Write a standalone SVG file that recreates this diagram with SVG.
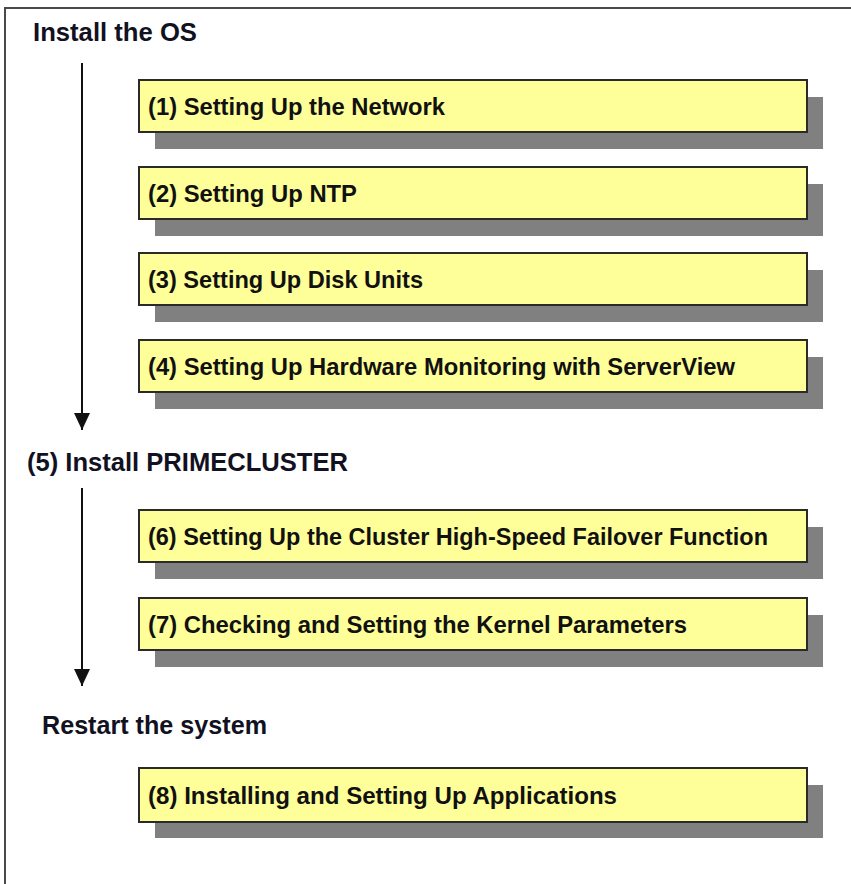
<svg xmlns="http://www.w3.org/2000/svg" width="851" height="884" viewBox="0 0 851 884">
<style>
.bg{fill:#ffffff}
.frame{fill:none;stroke:#4a4a4a;stroke-width:2}
.shadow{fill:#808080}
.box{fill:#ffff99;stroke:#2a2a2a;stroke-width:2}
.bt{font-family:"Liberation Sans",Arial,sans-serif;font-weight:bold;font-size:24px;fill:#111111}
.ht{font-family:"Liberation Sans",Arial,sans-serif;font-weight:bold;font-size:25px;fill:#111122}
.line{stroke:#111111;stroke-width:2;fill:none}
</style>
<defs>
<marker id="ah" markerWidth="17" markerHeight="16" refX="17" refY="8" orient="auto" markerUnits="userSpaceOnUse" viewBox="0 0 17 16">
<path d="M0,0 L17,8 L0,16 Z" fill="#111111"/>
</marker>
</defs>
<rect class="bg" x="0" y="0" width="851" height="884"/>
<rect class="frame" x="5" y="8" width="900" height="900"/>
<g id="heading-os"><text class="ht" x="33" y="41" textLength="164" lengthAdjust="spacingAndGlyphs">Install the OS</text></g>
<g id="heading-pc"><text class="ht" x="27" y="471" textLength="321" lengthAdjust="spacingAndGlyphs">(5) Install PRIMECLUSTER</text></g>
<g id="heading-restart"><text class="ht" x="42" y="734" textLength="225" lengthAdjust="spacingAndGlyphs">Restart the system</text></g>
<g id="connectors">
<path class="line" d="M82,63 V430" marker-end="url(#ah)"/>
<path class="line" d="M82,488 V686" marker-end="url(#ah)"/>
</g>
<g id="step1">
<rect class="shadow" x="155" y="97" width="668" height="52"/>
<rect class="box" x="139" y="80" width="668" height="52"/>
<text class="bt" x="148" y="115" textLength="297" lengthAdjust="spacingAndGlyphs">(1) Setting Up the Network</text>
</g>
<g id="step2">
<rect class="shadow" x="155" y="184" width="668" height="52"/>
<rect class="box" x="139" y="167" width="668" height="52"/>
<text class="bt" x="148" y="202" textLength="209" lengthAdjust="spacingAndGlyphs">(2) Setting Up NTP</text>
</g>
<g id="step3">
<rect class="shadow" x="155" y="270" width="668" height="52"/>
<rect class="box" x="139" y="253" width="668" height="52"/>
<text class="bt" x="148" y="288" textLength="275" lengthAdjust="spacingAndGlyphs">(3) Setting Up Disk Units</text>
</g>
<g id="step4">
<rect class="shadow" x="155" y="357" width="668" height="52"/>
<rect class="box" x="139" y="340" width="668" height="52"/>
<text class="bt" x="148" y="375" textLength="587" lengthAdjust="spacingAndGlyphs">(4) Setting Up Hardware Monitoring with ServerView</text>
</g>
<g id="step6">
<rect class="shadow" x="155" y="527" width="668" height="52"/>
<rect class="box" x="139" y="510" width="668" height="52"/>
<text class="bt" x="148" y="545" textLength="620" lengthAdjust="spacingAndGlyphs">(6) Setting Up the Cluster High-Speed Failover Function</text>
</g>
<g id="step7">
<rect class="shadow" x="155" y="615" width="668" height="52"/>
<rect class="box" x="139" y="598" width="668" height="52"/>
<text class="bt" x="148" y="633" textLength="539" lengthAdjust="spacingAndGlyphs">(7) Checking and Setting the Kernel Parameters</text>
</g>
<g id="step8">
<rect class="shadow" x="155" y="785" width="668" height="53"/>
<rect class="box" x="139" y="768" width="668" height="54"/>
<text class="bt" x="148" y="804" textLength="469" lengthAdjust="spacingAndGlyphs">(8) Installing and Setting Up Applications</text>
</g>
</svg>
